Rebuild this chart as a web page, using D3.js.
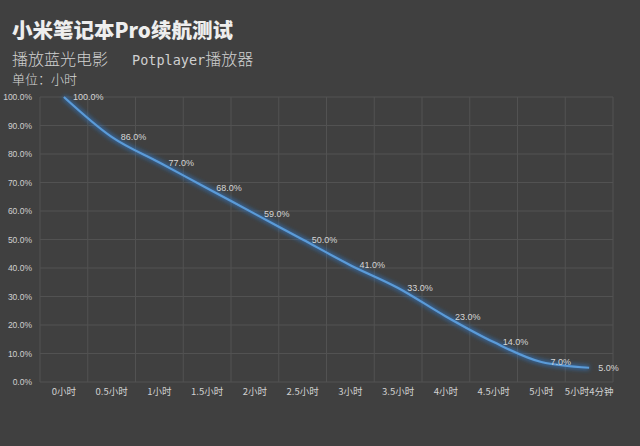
<!DOCTYPE html>
<html>
<head>
<meta charset="utf-8">
<script src="https://cdn.jsdelivr.net/npm/d3@7"></script>
<style>
  html, body { margin: 0; padding: 0; background: #404040; }
  svg { display: block; }
</style>
</head>
<body>
<div id="vis"></div>
<script>
const FRAME_WIDTH = 640;
const FRAME_HEIGHT = 446;
const MARGINS = {left: 40, right: 27, top: 97, bottom: 64};

// data
const categories = ["0小时", "0.5小时", "1小时", "1.5小时", "2小时", "2.5小时",
                    "3小时", "3.5小时", "4小时", "4.5小时", "5小时", "5小时4分钟"];
const battery = [100, 86, 77, 68, 59, 50, 41, 33, 23, 14, 7, 5];
const yTicks = [0, 10, 20, 30, 40, 50, 60, 70, 80, 90, 100];

const VIS_WIDTH = FRAME_WIDTH - MARGINS.left - MARGINS.right;
const VIS_HEIGHT = FRAME_HEIGHT - MARGINS.top - MARGINS.bottom;

const svg = d3.select("#vis")
  .append("svg")
    .attr("width", FRAME_WIDTH)
    .attr("height", FRAME_HEIGHT);

svg.append("rect")
  .attr("width", FRAME_WIDTH)
  .attr("height", FRAME_HEIGHT)
  .attr("fill", "#404040");

// titles
svg.append("text")
  .attr("x", 12).attr("y", 38)
  .attr("font-family", "'Noto Sans CJK SC', sans-serif")
  .attr("font-weight", 900)
  .attr("font-size", "20.5px")
  .attr("fill", "#eeeeee")
  .text("小米笔记本Pro续航测试");

const sub = svg.append("text")
  .attr("x", 12).attr("y", 65)
  .attr("font-family", "'Noto Sans CJK SC', sans-serif")
  .attr("font-weight", 300)
  .attr("font-size", "16px")
  .attr("fill", "#d0d0d0");
sub.append("tspan").text("播放蓝光电影");
sub.append("tspan").attr("x", 132)
  .attr("font-family", "'DejaVu Sans Mono', monospace")
  .attr("font-size", "13.5px")
  .text("Potplayer");
sub.append("tspan").text("播放器");

svg.append("text")
  .attr("x", 12).attr("y", 84)
  .attr("font-family", "'Noto Sans CJK SC', sans-serif")
  .attr("font-weight", 300)
  .attr("font-size", "13px")
  .attr("fill", "#d8d8d8")
  .text("单位：小时");

// scales
const X_SCALE = d3.scaleBand()
  .domain(categories)
  .range([0, VIS_WIDTH]);

const Y_SCALE = d3.scaleLinear()
  .domain([0, 100])
  .range([VIS_HEIGHT, 0]);

const plot = svg.append("g")
  .attr("transform", "translate(" + MARGINS.left + "," + MARGINS.top + ")");

// grid
plot.selectAll(".hgrid")
  .data(yTicks)
  .enter()
  .append("line")
    .attr("x1", 0).attr("x2", VIS_WIDTH)
    .attr("y1", d => Y_SCALE(d)).attr("y2", d => Y_SCALE(d))
    .attr("stroke", "#525252")
    .attr("stroke-width", 1);

const bounds = categories.map(c => X_SCALE(c)).concat([VIS_WIDTH]);
plot.selectAll(".vgrid")
  .data(bounds)
  .enter()
  .append("line")
    .attr("x1", d => d).attr("x2", d => d)
    .attr("y1", 0).attr("y2", VIS_HEIGHT)
    .attr("stroke", "#525252")
    .attr("stroke-width", 1);

// axes
const yAxis = plot.append("g")
  .call(d3.axisLeft(Y_SCALE).tickValues(yTicks)
    .tickFormat(d => d.toFixed(1) + "%").tickSize(0).tickPadding(8));
yAxis.select(".domain").remove();
yAxis.selectAll("text")
  .attr("font-family", "'Liberation Sans', sans-serif")
  .attr("font-size", "8.5px")
  .attr("fill", "#d0d0d0");

const xAxis = plot.append("g")
  .attr("transform", "translate(0," + VIS_HEIGHT + ")")
  .call(d3.axisBottom(X_SCALE).tickSize(0).tickPadding(6));
xAxis.select(".domain").remove();
xAxis.selectAll("text")
  .attr("font-family", "'Noto Sans CJK SC', sans-serif")
  .attr("font-size", "9.5px")
  .attr("fill", "#d0d0d0");

// line with glow
const defs = svg.append("defs");
defs.append("filter")
  .attr("id", "glow")
  .attr("x", "-10%").attr("y", "-10%")
  .attr("width", "120%").attr("height", "120%")
  .append("feGaussianBlur")
    .attr("stdDeviation", 2);

const line = d3.line()
  .x((d, i) => X_SCALE(categories[i]) + X_SCALE.bandwidth() / 2)
  .y(d => Y_SCALE(d))
  .curve(d3.curveMonotoneX);

plot.append("path")
  .datum(battery)
  .attr("d", line)
  .attr("fill", "none")
  .attr("stroke", "#2f7fd6")
  .attr("stroke-width", 5)
  .attr("stroke-opacity", 0.6)
  .attr("filter", "url(#glow)");

plot.append("path")
  .datum(battery)
  .attr("d", line)
  .attr("fill", "none")
  .attr("stroke", "#5b9bd8")
  .attr("stroke-width", 2.2);

// data labels
plot.selectAll(".lbl")
  .data(battery)
  .enter()
  .append("text")
    .attr("x", (d, i) => X_SCALE(categories[i]) + X_SCALE.bandwidth() / 2 + 9)
    .attr("y", d => Y_SCALE(d))
    .attr("dy", "0.35em")
    .attr("font-family", "'Liberation Sans', sans-serif")
    .attr("font-size", "9px")
    .attr("fill", "#d6d6d6")
    .text(d => d.toFixed(1) + "%");
</script>
</body>
</html>
